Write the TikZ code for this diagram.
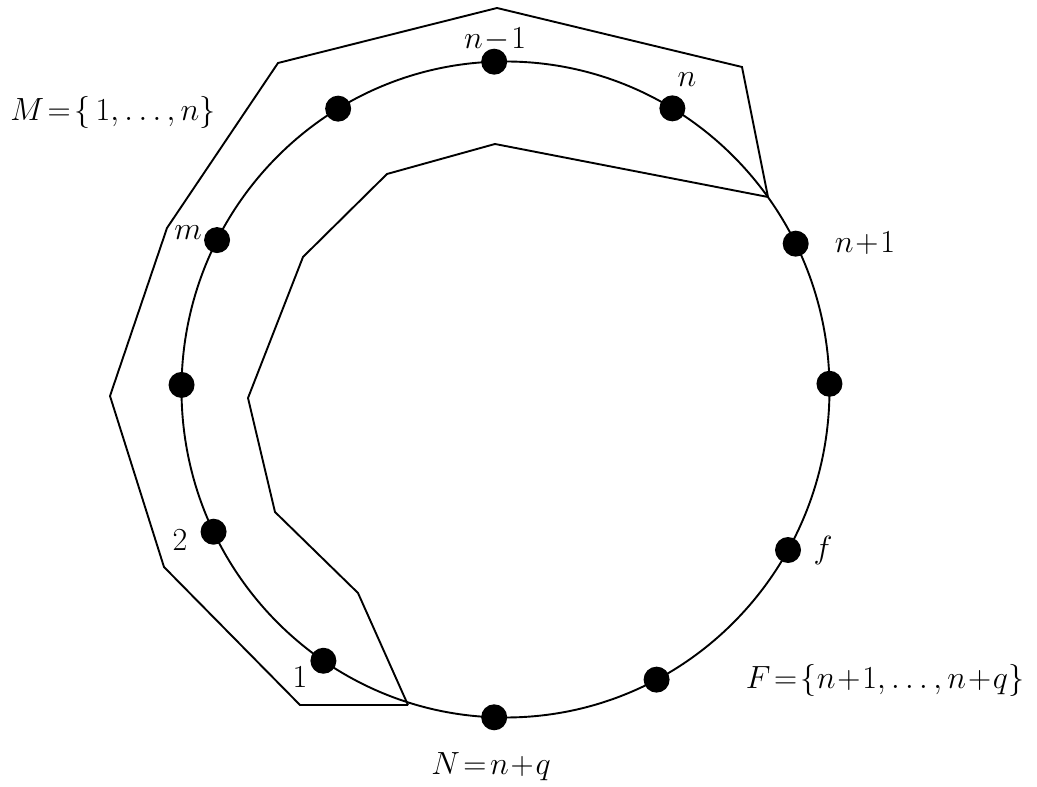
\documentclass[tikz,border=0pt]{standalone}
\usepackage{amsmath}
\usetikzlibrary{calc}
\begin{document}
\begin{tikzpicture}[x=1pt,y=1pt,
  dot/.style={circle,fill=black,inner sep=0pt,minimum size=26pt},
  lbl/.style={inner sep=0pt,font=\fontsize{24.88}{30}\selectfont,scale=1.29},
  ln/.style={line width=1.9pt,line join=miter}]
\useasboundingbox (0,0) rectangle (1037,787);
\coordinate (c) at (505.5,397.5);
\draw[ln] (c) ellipse [x radius=324, y radius=328];
% dots on the circle
\foreach \nm/\a in {d1/92, d2/59, d3/26.4, d4/1, d5/-29.3, d6/-62.2, d7/-92, d8/235.8, d9/205.7, d10/179.2, d11/152.9, d12/121.1}
  \node[dot] (\nm) at ($(c)+(\a:324 and 328)$) {};
% enclosing polygon
\coordinate (pA) at (408,82);
\coordinate (pB) at (768,590);
\draw[ln] (pA) -- (300,82) -- (164,220) -- (110,391) -- (167,559) -- (278,724)
  -- (497,779) -- (742,720) -- (pB)
  -- (495,643) -- (387,613) -- (303,530) -- (248,389) -- (275,275) -- (358,194) -- (pA);
% labels
\node[lbl] (lnm1) at (495,747) {$n\!-\!1$};
\node[lbl] (ln) at (687,707) {$n$};
\node[lbl] (lnp1) at (865,544) {$n\!+\!1$};
\node[lbl] (lf) at (823,237) {$f$};
\node[lbl] (lF) at (885,107) {$F\!=\!\{n\!+\!1,\ldots,n\!+\!q\}$};
\node[lbl] (lN) at (491,20) {$N\!=\!n\!+\!q$};
\node[lbl] (l1) at (300,110) {$1$};
\node[lbl] (l2) at (180,247) {$2$};
\node[lbl] (lm) at (188,554) {$m$};
\node[lbl] (lM) at (113,675) {$M\!=\!\{\,1,\ldots,n\}$};
\end{tikzpicture}
\end{document}
